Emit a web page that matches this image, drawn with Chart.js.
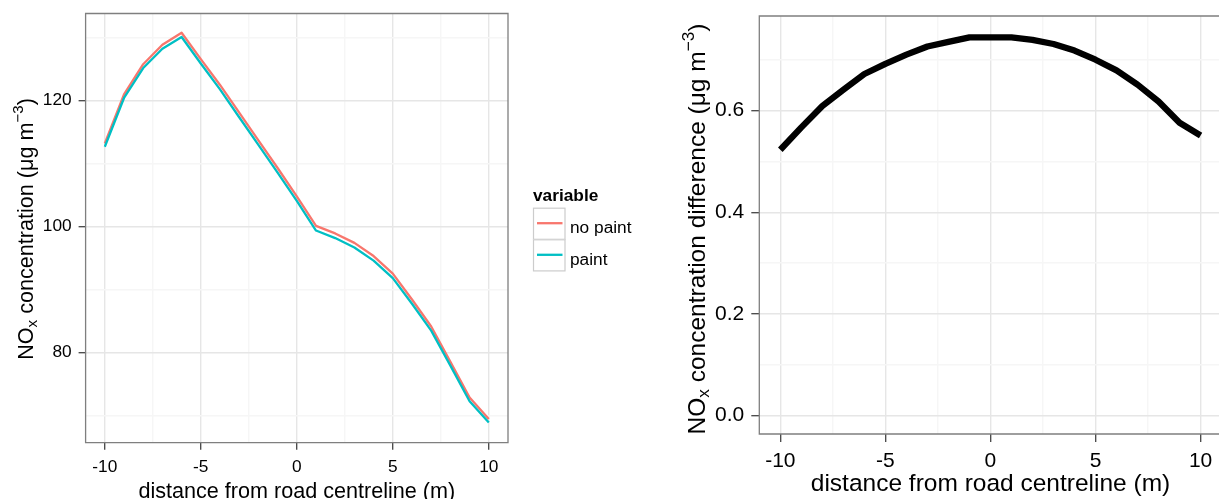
<!DOCTYPE html>
<html>
<head>
<meta charset="utf-8">
<script src="https://cdn.jsdelivr.net/npm/chart.js@4/dist/chart.umd.min.js"></script>
<style>
html,body{margin:0;padding:0;background:#fff;overflow:hidden;width:1219px;height:499px;position:relative}
#c1{position:absolute;left:0;top:0;width:650px;height:499px}
#w2{position:absolute;left:650px;top:0;width:569px;height:499px;overflow:hidden}
#c2{position:absolute;left:0;top:0;width:580px;height:499px}
</style>
</head>
<body>
<canvas id="c1" width="650" height="499"></canvas>
<div id="w2"><canvas id="c2" width="580" height="499"></canvas></div>
<script>
// ---- data ----
const distance = [-10,-9,-8,-7,-6,-5,-4,-3,-2,-1,0,1,2,3,4,5,6,7,8,9,10];
const noPaint  = [113.2,121.0,125.8,128.9,130.8,126.6,122.5,118.1,113.7,109.3,104.8,100.1,98.9,97.4,95.3,92.5,88.4,84.1,78.5,72.8,69.4];
const paint    = [112.68,120.43,125.19,128.26,130.13,125.91,121.79,117.37,112.97,108.56,104.06,99.36,98.16,96.67,94.58,91.80,87.72,83.45,77.88,72.22,68.85];
const difference = [0.523,0.567,0.609,0.641,0.672,0.692,0.710,0.726,0.735,0.744,0.744,0.744,0.739,0.731,0.718,0.700,0.679,0.651,0.618,0.576,0.551];
const seriesLabels = ['no paint','paint'];
const legendTitle = 'variable';
const xMajor = [-10,-5,0,5,10];
const xMinor = [-7.5,-2.5,2.5,7.5];
const yLeftMajor = [80,100,120];
const yLeftMinor = [70,90,110,130];
const yRightMajor = [0,0.2,0.4,0.6];
const yRightMinor = [0.1,0.3,0.5,0.7];
const xTitle = 'distance from road centreline (m)';

const FAMILY = '"Liberation Sans", Arial, Helvetica, sans-serif';
const COL_NOPAINT = '#F8766D';
const COL_PAINT = '#00BFC4';

function pts(xs, ys){ return xs.map((x,i)=>({x:x, y:ys[i]})); }

function makeScale(o){
  const major = o.major, all = o.major.concat(o.minor).sort((a,b)=>a-b);
  return {
    type:'linear', min:o.min, max:o.max,
    afterBuildTicks: s => { s.ticks = all.map(v=>({value:v})); },
    afterFit: s => {
      if (o.horizontal) s.height = o.size; else s.width = o.size;
      s.paddingLeft = 0; s.paddingRight = 0; s.paddingTop = 0; s.paddingBottom = 0;
    },
    ticks:{
      autoSkip:false, maxRotation:0, minRotation:0, padding:o.pad,
      color:'#000',
      font:{family:FAMILY, size:o.font},
      callback: v => major.includes(v) ? o.fmt(v) : ''
    },
    grid:{
      color: c => (c.tick && major.includes(c.tick.value)) ? '#E6E6E6' : '#F6F6F6',
      lineWidth: 1.4,
      drawTicks:true,
      tickLength:o.tl,
      tickWidth:1.3,
      tickColor: c => (c.tick && major.includes(c.tick.value)) ? '#444' : 'rgba(0,0,0,0)'
    },
    border:{display:false}
  };
}

function drawRich(ctx, segs, cx, cy, rotate, base, color){
  ctx.save();
  ctx.translate(cx, cy);
  if (rotate) ctx.rotate(-Math.PI/2);
  ctx.fillStyle = color; ctx.textBaseline = 'alphabetic'; ctx.textAlign = 'left';
  let total = 0;
  const ws = segs.map(s => { ctx.font = (s.scale*base)+'px '+FAMILY; const w = ctx.measureText(s.t).width; total += w; return w; });
  let x = -total/2;
  segs.forEach((s,i) => { ctx.font = (s.scale*base)+'px '+FAMILY; ctx.fillText(s.t, x, s.dy*base); x += ws[i]; });
  ctx.restore();
}

function borderPlugin(drawRight){
  return {
    id:'panelBorder',
    afterDatasetsDraw(chart){
      const a = chart.chartArea, ctx = chart.ctx;
      ctx.save(); ctx.strokeStyle = '#7F7F7F'; ctx.lineWidth = 1.3;
      ctx.beginPath();
      if (drawRight) {
        ctx.rect(a.left, a.top, a.right-a.left, a.bottom-a.top);
      } else {
        const r = chart.width;
        ctx.moveTo(r, a.top); ctx.lineTo(a.left, a.top); ctx.lineTo(a.left, a.bottom); ctx.lineTo(r, a.bottom);
      }
      ctx.stroke();
      ctx.restore();
    }
  };
}

function titlesPlugin(cfg){
  return {
    id:'titles',
    afterDraw(chart){
      const ctx = chart.ctx;
      drawRich(ctx, [{t:xTitle, scale:1, dy:0}], cfg.xcx, cfg.xby, false, cfg.size, '#000');
      drawRich(ctx, cfg.ySegs, cfg.ybx, cfg.ycy, true, cfg.size, '#000');
    }
  };
}

const legendPlugin = {
  id:'ggLegend',
  afterDraw(chart){
    const ctx = chart.ctx;
    ctx.save();
    ctx.fillStyle = '#000'; ctx.textAlign='left'; ctx.textBaseline='alphabetic';
    ctx.font = 'bold 17.3px '+FAMILY;
    ctx.fillText(legendTitle, 533, 200.5);
    const ds = chart.data.datasets;
    ds.forEach((d,i) => {
      const top = 207.7 + i*31.6;
      ctx.fillStyle = '#fff'; ctx.fillRect(533, top, 32, 31.6);
      ctx.strokeStyle = '#CCCCCC'; ctx.lineWidth = 1.2; ctx.strokeRect(533.5, top+0.5, 31.5, 31.1);
      ctx.strokeStyle = d.borderColor; ctx.lineWidth = 2.3;
      ctx.beginPath(); ctx.moveTo(537, top+15.5); ctx.lineTo(562.5, top+15.5); ctx.stroke();
      ctx.fillStyle = '#000'; ctx.font = '17.3px '+FAMILY;
      ctx.fillText(d.label, 570, top+25.5);
    });
    ctx.restore();
  }
};

// ---- left chart ----
new Chart(document.getElementById('c1'), {
  type:'line',
  data:{ datasets:[
    {label:seriesLabels[0], data:pts(distance,noPaint), borderColor:COL_NOPAINT, borderWidth:2.3, pointRadius:0, fill:false, tension:0, order:1, borderJoinStyle:'round'},
    {label:seriesLabels[1], data:pts(distance,paint), borderColor:COL_PAINT, borderWidth:2.3, pointRadius:0, fill:false, tension:0, order:0, borderJoinStyle:'round'}
  ]},
  options:{
    responsive:false, maintainAspectRatio:false, animation:false, devicePixelRatio:1,
    layout:{padding:{left:0, top:13.5, right:142, bottom:0}},
    plugins:{legend:{display:false}, tooltip:{enabled:false}},
    scales:{
      x: makeScale({min:-11,max:11,major:xMajor,minor:xMinor,horizontal:true,size:56.3,pad:7,tl:7,font:17.3,fmt:v=>String(v)}),
      y: makeScale({min:65.63,max:133.86,major:yLeftMajor,minor:yLeftMinor,horizontal:false,size:85.6,pad:7,tl:7,font:17.3,fmt:v=>String(v)})
    }
  },
  plugins:[borderPlugin(true), legendPlugin, titlesPlugin({
    size:21.6, xcx:296.8, xby:497.5, ybx:33, ycy:229,
    ySegs:[{t:'NO',scale:1,dy:0},{t:'x',scale:0.7,dy:0.17},{t:' concentration (μg m',scale:1,dy:0},{t:'−3',scale:0.7,dy:-0.46},{t:')',scale:1,dy:0}]
  })]
});

// ---- right chart ----
new Chart(document.getElementById('c2'), {
  type:'line',
  data:{ datasets:[
    {label:'difference', data:pts(distance,difference), borderColor:'#000', borderWidth:6.3, pointRadius:0, fill:false, tension:0, borderJoinStyle:'round', borderCapStyle:'butt'}
  ]},
  options:{
    responsive:false, maintainAspectRatio:false, animation:false, devicePixelRatio:1,
    layout:{padding:{left:0, top:16, right:8.4, bottom:0}},
    plugins:{legend:{display:false}, tooltip:{enabled:false}},
    scales:{
      x: makeScale({min:-11,max:11,major:xMajor,minor:xMinor,horizontal:true,size:65,pad:7,tl:8,font:21,fmt:v=>String(v)}),
      y: makeScale({min:-0.036,max:0.786,major:yRightMajor,minor:yRightMinor,horizontal:false,size:109.3,pad:7,tl:8,font:21,fmt:v=>v.toFixed(1)})
    }
  },
  plugins:[borderPlugin(false), titlesPlugin({
    size:24.5, xcx:340.5, xby:491, ybx:55, ycy:229,
    ySegs:[{t:'NO',scale:1,dy:0},{t:'x',scale:0.7,dy:0.17},{t:' concentration difference (μg m',scale:1,dy:0},{t:'−3',scale:0.7,dy:-0.46},{t:')',scale:1,dy:0}]
  })]
});
</script>
</body>
</html>
